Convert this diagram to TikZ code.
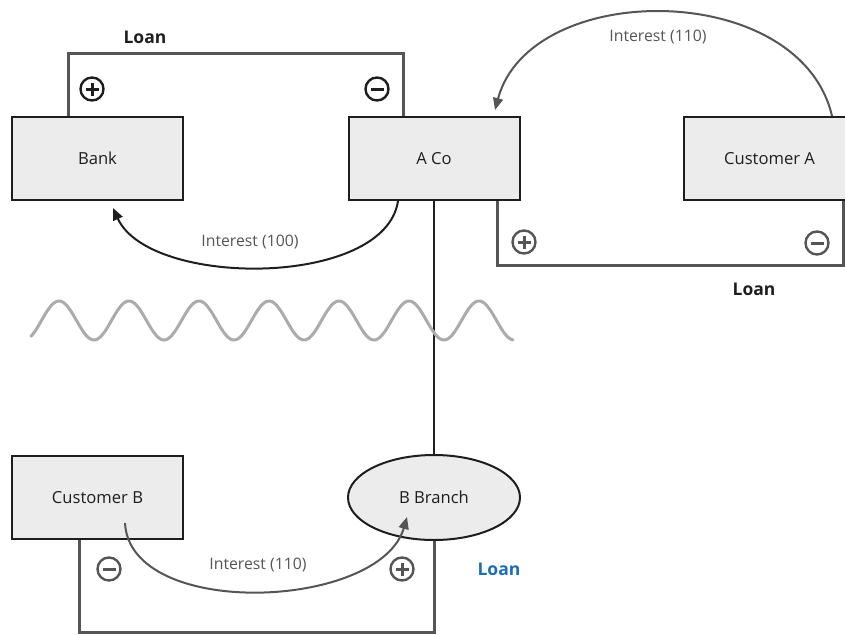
\documentclass[tikz,border=0pt]{standalone}
\usepackage{fontspec}
\setmainfont{Open Sans}
\usetikzlibrary{calc,shapes.geometric,arrows.meta}
\definecolor{boxfill}{HTML}{ECECEC}
\definecolor{ink}{HTML}{1E1E1E}
\definecolor{linegray}{HTML}{555555}
\definecolor{wavegray}{HTML}{ABABAB}
\definecolor{loanblue}{HTML}{1B6DB5}

\begin{document}
\begin{tikzpicture}[x=1pt, y=-1pt,
  entity/.style={draw=ink, fill=boxfill, line width=2pt, minimum width=171pt, minimum height=83pt, text=ink, font=\fontsize{16.6}{19}\selectfont},
  branch/.style={entity, ellipse, minimum width=172pt, minimum height=85pt},
  loanline/.style={draw=linegray, line width=3pt},
  link/.style={draw=ink, line width=1.5pt},
  interest/.style={line width=2pt, -{Triangle[length=12pt, width=10pt]}},
  interestlabel/.style={text=linegray, font=\fontsize{15.8}{18}\selectfont},
  loanlabel/.style={text=ink, font=\fontsize{17.5}{20}\selectfont\bfseries},
  wave/.style={draw=wavegray, line width=3pt, line cap=round},
  sign/.style={circle, draw=#1, line width=2.4pt, minimum size=23pt, inner sep=0pt},
  plussign/.style={sign=#1, path picture={\draw[#1, line width=3pt] (path picture bounding box.center) +(-6.5pt,0) -- +(6.5pt,0) +(0,-6.5pt) -- +(0,6.5pt);}},
  minussign/.style={sign=#1, path picture={\draw[#1, line width=3pt] (path picture bounding box.center) +(-6.5pt,0) -- +(6.5pt,0);}}]
  \useasboundingbox (0,0) rectangle (845,634);

  % parties
  \node[entity] (bank) at (97.5,158.5) {Bank};
  \node[entity] (aco) at (434,158.5) {A Co};
  \node[entity] (custa) at (769.5,158.5) {Customer A};
  \node[entity] (custb) at (97.5,497.5) {Customer B};
  \node[branch] (bbranch) at (434,497.5) {B Branch};

  % loans
  \draw[loanline] ($(bank.north)+(-29.5,0)$) -- ++(0,-62) -| ($(aco.north)+(-31,0)$);
  \draw[loanline] ($(aco.south)+(63,0)$) -- ++(0,64) -| ($(custa.south)+(74,0)$);
  \draw[loanline] ($(custb.south)+(-18.5,0)$) -- ++(0,92) -| (bbranch.south);
  \draw[link] (aco.south) -- (bbranch.north);

  % border
  \draw[wave] plot[domain=31:513, samples=240, smooth] (\x, {320.5-19.5*cos((\x-59)/70*360)});

  % interest flows
  \draw[interest, ink] ($(aco.south)+(-36,0)$) .. controls ($(aco.south)+(-49,87)$) and ($(bank.south)+(52,87)$) .. ($(bank.south)+(15.5,7)$);
  \draw[interest, linegray] ($(custa.north)+(62.5,0)$) .. controls ($(custa.north)+(30.5,-137)$) and ($(aco.north)+(96,-137)$) .. ($(aco.north)+(61,-6)$);
  \draw[interest, linegray] ($(custb.center)+(27.5,25.5)$) .. controls ($(custb.center)+(32.5,122.5)$) and ($(bbranch.center)+(-54,112.5)$) .. ($(bbranch.center)+(-27,19.5)$);

  \node[interestlabel] (int100) at (250,242) {Interest (100)};
  \node[interestlabel] (inttop) at (658,37) {Interest (110)};
  \node[interestlabel] (intbot) at (258,565) {Interest (110)};

  \node[loanlabel] (loantop) at (145,37) {Loan};
  \node[loanlabel] (loanright) at (754,289) {Loan};
  \node[loanlabel, text=loanblue] (loanbot) at (499,569) {Loan};

  % signs
  \node[plussign=ink] (bankplus) at (92,89) {};
  \node[minussign=ink] (acominus) at (377,89) {};
  \node[plussign=linegray] (acoplus) at (524,242) {};
  \node[minussign=linegray] (custaminus) at (817,243) {};
  \node[minussign=linegray] (custbminus) at (109,569) {};
  \node[plussign=linegray] (branchplus) at (402,569) {};
\end{tikzpicture}
\end{document}
